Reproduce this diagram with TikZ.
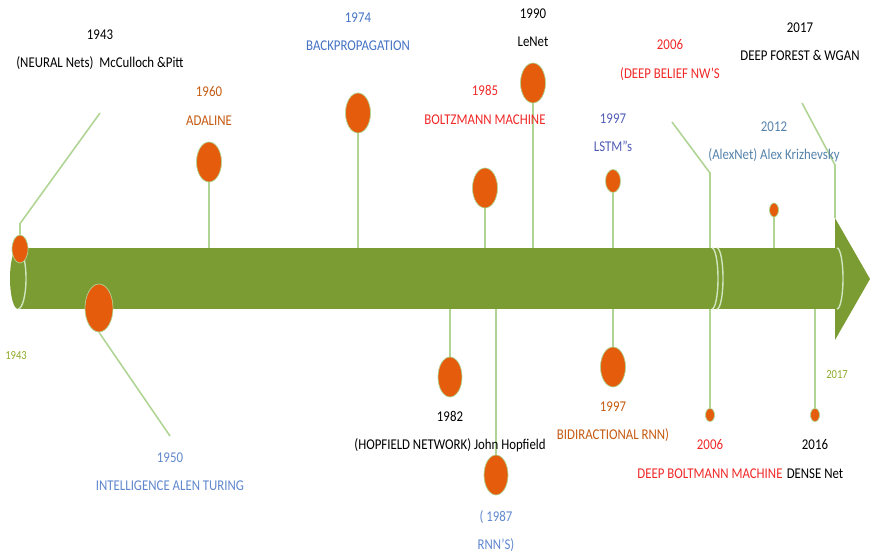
\documentclass[tikz,border=0pt]{standalone}
\usepackage{fontspec}
\setmainfont{Carlito}[FakeStretch=0.86]
\usetikzlibrary{shapes.geometric, positioning}
\definecolor{barolive}{RGB}{122,156,50}
\definecolor{stemgreen}{RGB}{176,212,148}
\definecolor{dotorange}{RGB}{228,92,12}
\definecolor{txtbrown}{RGB}{197,90,17}
\definecolor{txtblue}{RGB}{68,114,196}
\definecolor{txtred}{RGB}{240,40,40}
\definecolor{txtsteel}{RGB}{84,130,170}
\definecolor{txtolive}{RGB}{140,170,40}

\begin{document}
\begin{tikzpicture}[x=0.02cm, y=-0.02cm,
    blob/.style 2 args={ellipse, draw=stemgreen, line width=0.4pt, fill=dotorange, inner sep=0pt, minimum width=#1*0.02cm, minimum height=#2*0.02cm},
    stem/.style={draw=stemgreen, line width=0.9pt},
    seam/.style={draw=stemgreen!60!white, line width=0.8pt},
    lbl/.style={align=center, font=\fontsize{8.5}{16}\selectfont, inner sep=0pt},
    axlbl/.style={font=\fontsize{7}{8}\selectfont, text=txtolive, inner sep=0pt}]
        \useasboundingbox (0,0) rectangle (870,557);

        % anchor points on the bar
        \coordinate (bartop) at (0,248);
        \coordinate (barbot) at (0,309);
        \coordinate (headtop) at (835,218);
        \coordinate (k1943) at (100,113);
        \coordinate (k1950) at (170,436);
        \coordinate (k2006) at (672,122);
        \coordinate (b2006) at (710,173);
        \coordinate (k2017) at (802,103);
        \coordinate (b2017) at (835,165);

        % events away from the bar
        \node[blob={25}{40}] (d1960) at (209,162) {};
        \node[blob={25}{40}] (d1974) at (358,113) {};
        \node[blob={25}{40}] (d1985) at (485,188) {};
        \node[blob={25}{40}] (d1990) at (533,83) {};
        \node[blob={15}{23}] (d1997a) at (613,181) {};
        \node[blob={9}{14}] (d2012) at (774,210) {};
        \node[blob={24}{40}] (d1982) at (450,377) {};
        \node[blob={24}{40}] (d1987) at (496,475) {};
        \node[blob={25}{40}] (d1997b) at (613,367) {};
        \node[blob={9}{13}] (d2006) at (710,415) {};
        \node[blob={9}{13}] (d2016) at (815,415) {};

        % lines that run behind the bar
        \draw[stem] (k2006) -- (b2006) -- (d2006.north);
        \draw[stem] (k2017) -- (b2017) -- (headtop);

        % Main bar with arrow head
        \fill[barolive] (18,248) rectangle (835,309);
        \fill[barolive] (18,278.5) ellipse [x radius=8, y radius=30.5];
        \fill[barolive] (headtop) -- (870,279) -- (835,340) -- cycle;
        \draw[seam] (18,309) arc[start angle=90, end angle=-90, x radius=8, y radius=30.5];
        \draw[seam] (712,309) arc[start angle=90, end angle=-90, x radius=6, y radius=30.5];
        \draw[seam] (717,309) arc[start angle=90, end angle=-90, x radius=6, y radius=30.5];
        \draw[seam] (837,309) arc[start angle=90, end angle=-90, x radius=6, y radius=30.5];

        % events sitting on the bar
        \node[blob={16}{28}] (d1943) at (20,249) {};
        \node[blob={28}{48}] (d1950) at (99,308) {};

        % stems
        \draw[stem] (d1943.north) -- ++(0,-11) -- (k1943);
        \draw[stem] (d1950.south) -- (k1950);
        \foreach \d in {d1960, d1974, d1985, d1990, d1997a, d2012}
            \draw[stem] (\d.south) -- (\d.south |- bartop);
        \foreach \d in {d1982, d1987, d1997b, d2016}
            \draw[stem] (\d.north) -- (\d.north |- barbot);

        % labels
        \node[lbl] (l1943) at (100,50) {1943\\(NEURAL Nets)~~McCulloch \&Pitt};
        \node[lbl, text=txtbrown] (l1960) at (209,106) {1960\\ADALINE};
        \node[lbl, text=txtblue] (l1974) at (358,32) {1974\\BACKPROPAGATION};
        \node[lbl, text=txtred] (l1985) at (485,105) {1985\\BOLTZMANN MACHINE};
        \node[lbl] (l1990) at (533,28) {1990\\LeNet};
        \node[lbl, text=txtblue!80!violet] (l1997a) at (613,133) {1997\\LSTM''s};
        \node[lbl, text=txtred] (l2006a) at (670,60) {2006\\(DEEP BELIEF NW'S};
        \node[lbl, text=txtsteel] (l2012) at (774,142) {2012\\(AlexNet) Alex Krizhevsky};
        \node[lbl] (l2017) at (800,42) {2017\\DEEP FOREST \& WGAN};
        \node[lbl, text=txtblue!85!white] (l1950) at (170,472) {1950\\INTELLIGENCE ALEN TURING};
        \node[lbl] (l1982) at (450,432) {1982\\(HOPFIELD NETWORK) John Hopfield};
        \node[lbl, text=txtblue!85!white] (l1987) at (496,531) {( 1987\\RNN'S)};
        \node[lbl, text=txtbrown] (l1997b) at (613,422) {1997\\BIDIRACTIONAL RNN)};
        \node[lbl, text=txtred] (l2006b) at (710,459) {2006\\DEEP BOLTMANN MACHINE};
        \node[lbl] (l2016) at (815,459) {2016\\DENSE Net};
        \node[axlbl] (a1943) at (16,356) {1943};
        \node[axlbl] (a2017) at (837,375) {2017};
    \end{tikzpicture}
\end{document}
